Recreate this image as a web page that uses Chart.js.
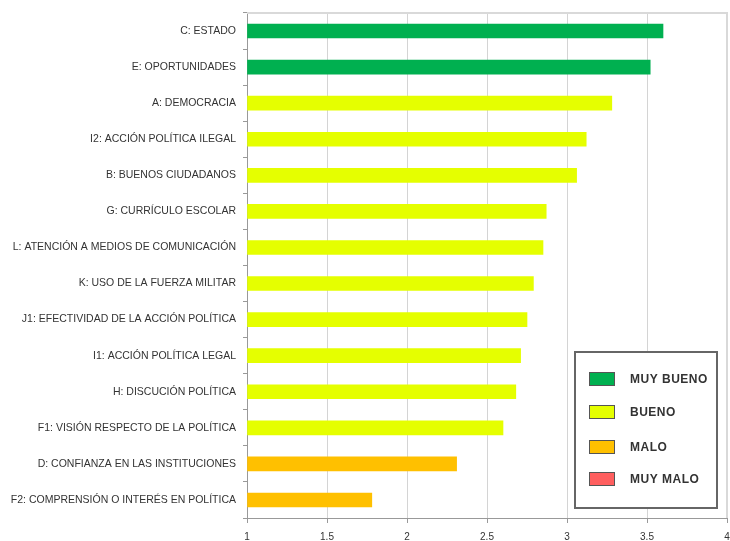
<!DOCTYPE html>
<html>
<head>
<meta charset="utf-8">
<script src="https://cdn.jsdelivr.net/npm/chart.js@4"></script>
<style>
html,body{margin:0;padding:0;background:#fff;}
#wrap{position:relative;width:730px;height:541px;}
</style>
</head>
<body>
<div id="wrap"><canvas id="c" width="730" height="541"></canvas></div>
<script>
const categories = [
  'C: ESTADO',
  'E: OPORTUNIDADES',
  'A: DEMOCRACIA',
  'I2: ACCIÓN POLÍTICA ILEGAL',
  'B: BUENOS CIUDADANOS',
  'G: CURRÍCULO ESCOLAR',
  'L: ATENCIÓN A MEDIOS DE COMUNICACIÓN',
  'K: USO DE LA FUERZA MILITAR',
  'J1: EFECTIVIDAD DE LA ACCIÓN POLÍTICA',
  'I1: ACCIÓN POLÍTICA LEGAL',
  'H: DISCUCIÓN POLÍTICA',
  'F1: VISIÓN RESPECTO DE LA POLÍTICA',
  'D: CONFIANZA EN LAS INSTITUCIONES',
  'F2: COMPRENSIÓN O INTERÉS EN POLÍTICA'
];
const values = [3.60, 3.52, 3.28, 3.12, 3.06, 2.87, 2.85, 2.79, 2.75, 2.71, 2.68, 2.60, 2.31, 1.78];
// rating index per category: 0 MUY BUENO, 1 BUENO, 2 MALO, 3 MUY MALO
const ratings = [0, 0, 1, 1, 1, 1, 1, 1, 1, 1, 1, 1, 2, 2];
const legendLabels = ['MUY BUENO', 'BUENO', 'MALO', 'MUY MALO'];
const legendColors = ['#00B050', '#E5FF00', '#FFC000', '#FF5F5F'];
const xTicks = [1, 1.5, 2, 2.5, 3, 3.5, 4];

const frameAndLegend = {
  id: 'frameAndLegend',
  beforeDatasetsDraw(chart) {
    const {ctx, chartArea: a} = chart;
    ctx.save();
    ctx.strokeStyle = '#d9d9d9';
    ctx.lineWidth = 2;
    ctx.beginPath();
    ctx.moveTo(a.left, a.top);
    ctx.lineTo(a.right, a.top);
    ctx.lineTo(a.right, a.bottom);
    ctx.stroke();
    ctx.restore();
  },
  afterDraw(chart) {
    const {ctx} = chart;
    const bx = 575, by = 352, bw = 142, bh = 156;
    ctx.save();
    ctx.fillStyle = '#fff';
    ctx.fillRect(bx, by, bw, bh);
    ctx.strokeStyle = '#666';
    ctx.lineWidth = 2;
    ctx.strokeRect(bx, by, bw, bh);
    const ys = [379, 412, 447, 479];
    ctx.font = 'bold 12px "Liberation Sans", Arial, sans-serif';
    ctx.letterSpacing = '0.5px';
    ctx.textBaseline = 'middle';
    legendLabels.forEach((lab, i) => {
      ctx.fillStyle = legendColors[i];
      ctx.fillRect(589, ys[i] - 7, 26, 14);
      ctx.strokeStyle = '#555';
      ctx.lineWidth = 1;
      ctx.strokeRect(589.5, ys[i] - 6.5, 25, 13);
      ctx.fillStyle = '#333';
      ctx.fillText(lab, 630, ys[i] + 1);
    });
    ctx.restore();
  }
};

new Chart(document.getElementById('c'), {
  type: 'bar',
  data: {
    labels: categories,
    datasets: [{
      data: values,
      backgroundColor: ratings.map(r => legendColors[r]),
      borderWidth: 0,
      barThickness: 14,
      base: 1
    }]
  },
  options: {
    indexAxis: 'y',
    responsive: false,
    animation: false,
    layout: { padding: { top: 13, right: 3, left: 0, bottom: 0 } },
    plugins: { legend: { display: false }, tooltip: { enabled: false } },
    scales: {
      x: {
        type: 'linear',
        min: 1,
        max: 4,
        afterBuildTicks: s => { s.ticks = xTicks.map(v => ({ value: v })); },
        afterFit: s => { s.height = 23; s.paddingLeft = 0; s.paddingRight = 0; },
        grid: { color: '#d4d4d4', lineWidth: 1, drawTicks: true, tickLength: 5, tickColor: '#999' },
        border: { color: '#999', width: 1 },
        ticks: {
          padding: 8,
          color: '#333',
          font: { family: '"Liberation Sans", Arial, sans-serif', size: 10 },
          callback: v => String(v)
        }
      },
      y: {
        type: 'category',
        afterFit: s => { s.width = 247; s.paddingTop = 0; s.paddingBottom = 0; },
        grid: { drawOnChartArea: false, drawTicks: true, tickLength: 4, tickColor: '#999', offset: true },
        border: { color: '#999', width: 1 },
        ticks: {
          padding: 7,
          color: '#333',
          font: { family: '"Liberation Sans", Arial, sans-serif', size: 10.5 }
        }
      }
    }
  },
  plugins: [frameAndLegend]
});
</script>
</body>
</html>
